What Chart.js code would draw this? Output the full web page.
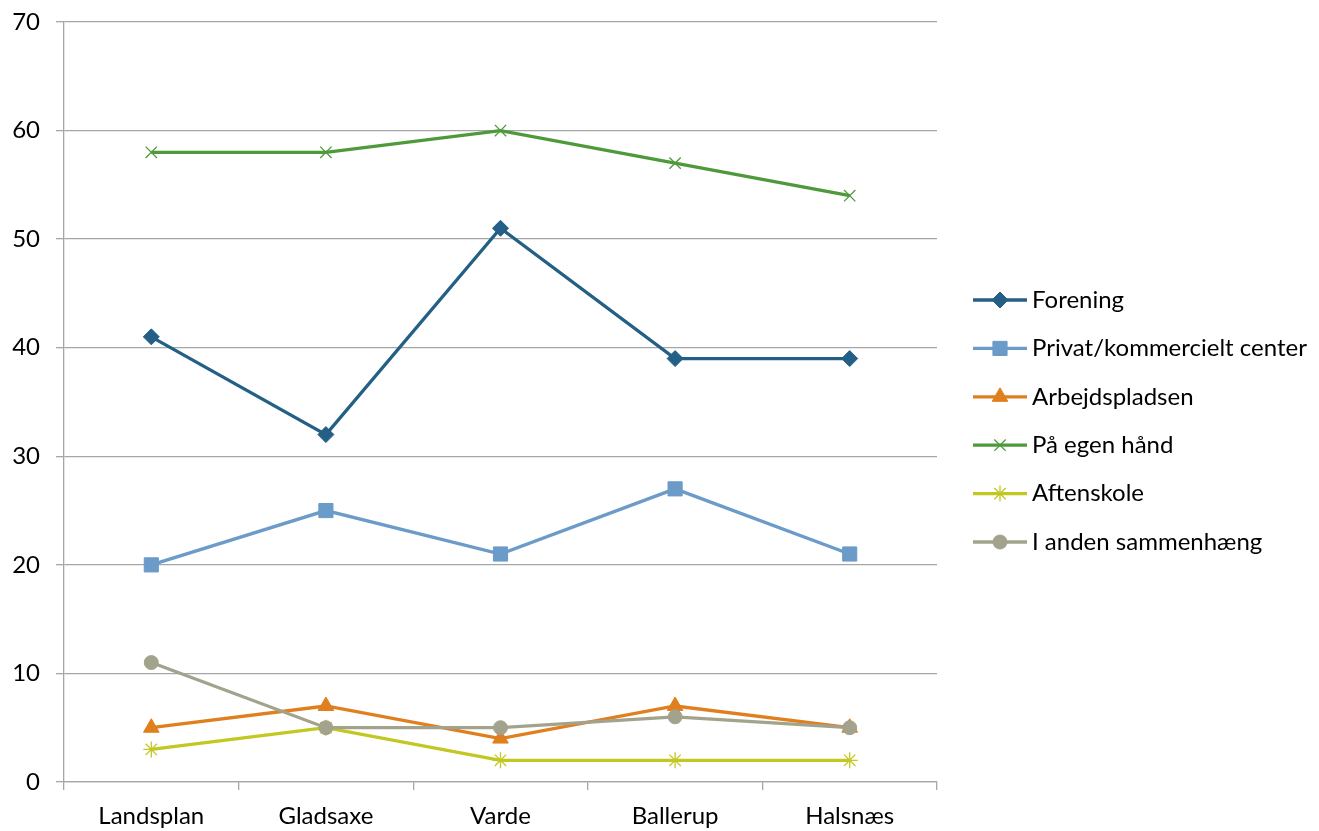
<!DOCTYPE html>
<html>
<head>
<meta charset="utf-8">
<script src="https://cdn.jsdelivr.net/npm/chart.js@4"></script>
<style>
  html, body { margin: 0; padding: 0; background: #fff; }
  #wrap { width: 1319px; height: 831px; position: relative; }
</style>
</head>
<body>
<div id="wrap"><canvas id="chart"></canvas></div>
<script>
// categories and series
const categories = ['Landsplan', 'Gladsaxe', 'Varde', 'Ballerup', 'Halsnæs'];
const forening = [41, 32, 51, 39, 39];
const privatCenter = [20, 25, 21, 27, 21];
const arbejdspladsen = [5, 7, 4, 7, 5];
const egenHaand = [58, 58, 60, 57, 54];
const aftenskole = [3, 5, 2, 2, 2];
const andenSammenhaeng = [11, 5, 5, 6, 5];
const seriesNames = ['Forening', 'Privat/kommercielt center', 'Arbejdspladsen', 'På egen hånd', 'Aftenskole', 'I anden sammenhæng'];

const FONT = 'Lato, "Open Sans", sans-serif';

const styles = [
  { color: '#245f85', point: 'rectRot', radius: 8 },
  { color: '#6b9bc8', point: 'rect', radius: 10 },
  { color: '#e07f1d', point: 'triangle', radius: 9 },
  { color: '#4e9a3b', point: 'crossRot', radius: 8 },
  { color: '#c2c821', point: 'star', radius: 8 },
  { color: '#a3a38d', point: 'circle', radius: 7 }
];

const seriesData = [forening, privatCenter, arbejdspladsen, egenHaand, aftenskole, andenSammenhaeng];

const datasets = seriesData.map((vals, i) => ({
  label: seriesNames[i],
  data: vals,
  borderColor: styles[i].color,
  backgroundColor: styles[i].color,
  borderWidth: 3.3,
  pointStyle: styles[i].point,
  pointRadius: styles[i].radius,
  pointBorderWidth: (styles[i].point === 'crossRot' || styles[i].point === 'star') ? 1.3 : 1,
  pointBorderColor: styles[i].color,
  pointBackgroundColor: styles[i].color,
  tension: 0,
  order: -i
}));

// legend drawn by hand: line with marker in the middle, like the original
const sideLegend = {
  id: 'sideLegend',
  afterDraw(chart) {
    const ctx = chart.ctx;
    const x0 = 973, x1 = 1027, y0 = 300, step = 48.4;
    ctx.save();
    chart.data.datasets.forEach((ds, i) => {
      const y = y0 + i * step;
      ctx.strokeStyle = ds.borderColor;
      ctx.lineWidth = 3.3;
      ctx.beginPath();
      ctx.moveTo(x0, y);
      ctx.lineTo(x1, y);
      ctx.stroke();
      ctx.fillStyle = ds.backgroundColor;
      ctx.strokeStyle = ds.borderColor;
      ctx.lineWidth = ds.pointBorderWidth;
      Chart.helpers.drawPoint(ctx, { pointStyle: ds.pointStyle, radius: ds.pointRadius, borderWidth: ds.pointBorderWidth }, (x0 + x1) / 2, y);
      ctx.fillStyle = '#000';
      ctx.font = '24px ' + FONT;
      ctx.textBaseline = 'middle';
      ctx.fillText(ds.label, 1032, y);
    });
    ctx.restore();
  }
};

new Chart(document.getElementById('chart'), {
  type: 'line',
  data: { labels: categories, datasets: datasets },
  options: {
    responsive: true,
    maintainAspectRatio: false,
    animation: false,
    layout: { padding: { left: 0, right: 382, top: 22, bottom: 0 } },
    plugins: {
      legend: { display: false },
      tooltip: { enabled: false }
    },
    scales: {
      x: {
        offset: true,
        grid: {
          offset: true,
          drawOnChartArea: false,
          drawTicks: true,
          tickLength: 8,
          color: '#a6a6a6',
          lineWidth: 1.3
        },
        border: { color: '#a6a6a6', width: 1.3 },
        ticks: { color: '#000', font: { family: FONT, size: 24 }, padding: 12 },
        afterFit(scale) { scale.height = 49; }
      },
      y: {
        min: 0,
        max: 70,
        ticks: { stepSize: 10, color: '#000', font: { family: FONT, size: 24 }, padding: 16 },
        grid: { color: '#a6a6a6', lineWidth: 1.3, tickLength: 8 },
        border: { color: '#a6a6a6', width: 1.3 },
        afterFit(scale) {
          scale.width = 64;
          scale.paddingTop = 0;
          scale.paddingBottom = 0;
        }
      }
    }
  },
  plugins: [sideLegend]
});
</script>
</body>
</html>
